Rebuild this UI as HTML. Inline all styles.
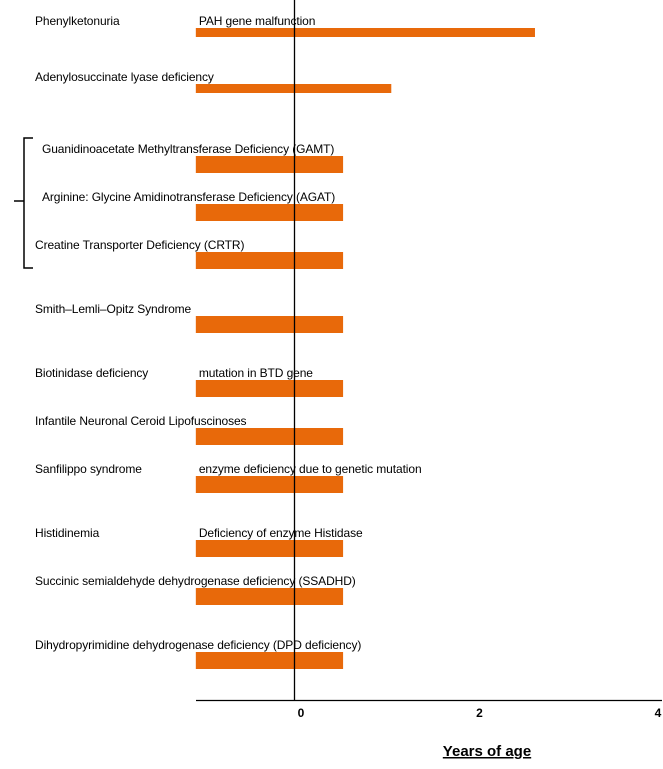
<!DOCTYPE html>
<html><head><meta charset="utf-8"><style>
html,body{margin:0;padding:0;background:#fff;}
svg text{font-family:"Liberation Sans",sans-serif;fill:#000;}
</style></head><body>
<svg id="chart" width="663" height="764" viewBox="0 0 663 764">
<g id="bars"></g>
<line x1="294.5" y1="0" x2="294.5" y2="700" stroke="#000" stroke-width="1.3"/>
<line x1="196" y1="700.5" x2="662" y2="700.5" stroke="#000" stroke-width="1.3"/>
<g id="ticks"></g>
<path d="M33,138 H24 V201 H14 M24,201 V268 H33" fill="none" stroke="#000" stroke-width="1.5"/>
<text x="487" y="756" font-size="15" font-weight="bold" text-anchor="middle" text-decoration="underline">Years of age</text>
</svg>
<script>
const categories=["Phenylketonuria","Adenylosuccinate lyase deficiency","Guanidinoacetate Methyltransferase Deficiency (GAMT)","Arginine: Glycine Amidinotransferase Deficiency (AGAT)","Creatine Transporter Deficiency (CRTR)","Smith–Lemli–Opitz Syndrome","Biotinidase deficiency","Infantile Neuronal Ceroid Lipofuscinoses","Sanfilippo syndrome","Histidinemia","Succinic semialdehyde dehydrogenase deficiency (SSADHD)","Dihydropyrimidine dehydrogenase deficiency (DPD deficiency)"];
const notes=["PAH gene malfunction","","","","","","mutation in BTD gene","","enzyme deficiency due to genetic mutation","Deficiency of enzyme Histidase","",""];
const startValues=[-1.1,-1.1,-1.1,-1.1,-1.1,-1.1,-1.1,-1.1,-1.1,-1.1,-1.1,-1.1];
const endValues=[2.7,1.09,0.55,0.55,0.55,0.55,0.55,0.55,0.55,0.55,0.55,0.55];
const tickValues=[0,2,4];
const tickLabels=["0","2","4"];
const rowTops=[28,84,156,204,252,316,380,428,476,540,588,652];
const rowHeights=[9,9,17,17,17,17,17,17,17,17,17,17];
const labelX=[35,35,42,42,35,35,35,35,35,35,35,35];
const NS="http://www.w3.org/2000/svg";
function xs(v){return 294+v*89.25;}
const bars=document.getElementById('bars');
categories.forEach((c,i)=>{
  const r=document.createElementNS(NS,'rect');
  r.setAttribute('x',xs(startValues[i]));r.setAttribute('y',rowTops[i]);
  r.setAttribute('width',xs(endValues[i])-xs(startValues[i]));r.setAttribute('height',rowHeights[i]);
  r.setAttribute('fill','#E8690A');
  
  
  bars.appendChild(r);
  const t=document.createElementNS(NS,'text');
  t.setAttribute('x',labelX[i]);t.setAttribute('y',rowTops[i]-3);t.setAttribute('font-size','12');
  t.setAttribute('letter-spacing','-0.1');
  t.textContent=c;
  
  
  bars.appendChild(t);
  if(notes[i]){
    const n=document.createElementNS(NS,'text');
    n.setAttribute('x',xs(startValues[i])+3);n.setAttribute('y',rowTops[i]-3);n.setAttribute('font-size','12');
    n.setAttribute('letter-spacing','-0.1');
    n.textContent=notes[i];
    
    
    bars.appendChild(n);
  }
});
const ticks=document.getElementById('ticks');
tickValues.forEach((v,i)=>{
  const t=document.createElementNS(NS,'text');
  t.setAttribute('x',xs(v)+7);t.setAttribute('y',717);t.setAttribute('font-size','12');t.setAttribute('font-weight','bold');
  t.setAttribute('text-anchor','middle');
  t.textContent=tickLabels[i];
  
  
  ticks.appendChild(t);
});
</script>
</body></html>
